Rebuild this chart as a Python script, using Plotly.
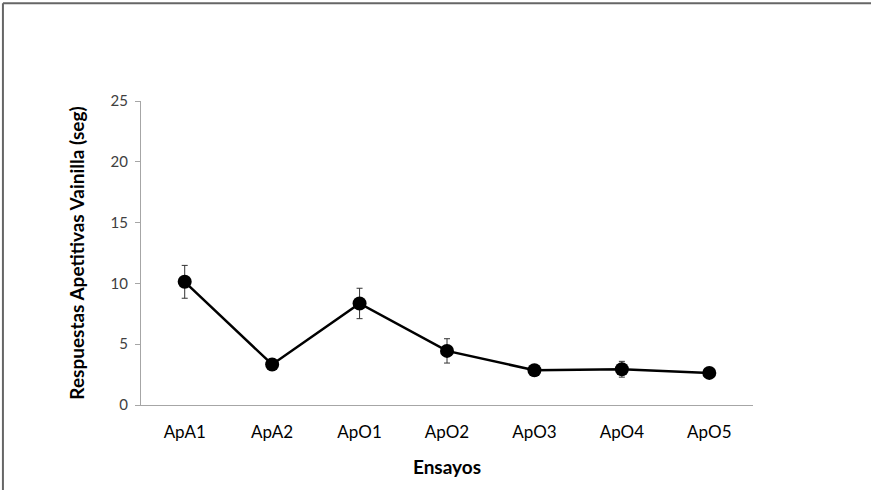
import plotly.graph_objects as go

categories = ["ApA1", "ApA2", "ApO1", "ApO2", "ApO3", "ApO4", "ApO5"]
values = [10.13, 3.33, 8.35, 4.45, 2.86, 2.94, 2.64]
errors = [1.35, 0.3, 1.25, 1.0, 0.25, 0.65, 0.2]
y_ticks = [0, 5, 10, 15, 20, 25]

FONT = "Lato"

fig = go.Figure()
fig.add_trace(go.Scatter(
    x=categories, y=values,
    mode="lines+markers",
    line=dict(color="black", width=2.5),
    marker=dict(color="black", size=14),
    error_y=dict(type="data", array=errors, visible=True,
                 color="#333333", thickness=1, width=3),
    showlegend=False,
))

fig.update_layout(
    width=871, height=490,
    margin=dict(l=141, r=118, t=101, b=85),
    paper_bgcolor="white", plot_bgcolor="white",
    font=dict(family=FONT, color="black"),
    xaxis=dict(
        type="category", range=[-0.5, 6.5],
        showline=True, linecolor="#a6a6a6", linewidth=1,
        showgrid=False, ticks="", zeroline=False,
        tickfont=dict(size=17, color="black", family=FONT),
        ticklabelstandoff=12,
        title=dict(text="<b>Ensayos</b>", font=dict(size=19, family=FONT), standoff=19),
    ),
    yaxis=dict(
        range=[0, 25], tickvals=y_ticks,
        showline=True, linecolor="#a6a6a6", linewidth=1,
        showgrid=False, zeroline=False,
        ticks="outside", ticklen=5, tickcolor="#a6a6a6",
        tickfont=dict(size=15, color="#404040", family=FONT),
        ticklabelstandoff=4,
        title=dict(text="<b>Respuestas Apetitivas Vainilla (seg)</b>",
                   font=dict(size=19, family=FONT), standoff=20),
    ),
    shapes=[
        dict(type="line", xref="paper", yref="paper",
             x0=-0.2256, x1=1.2, y0=1.3216, y1=1.3216,
             line=dict(color="#666666", width=2)),
        dict(type="line", xref="paper", yref="paper",
             x0=-0.2256, x1=-0.2256, y0=-0.3, y1=1.3216,
             line=dict(color="#666666", width=2)),
    ],
)

fig.write_html("out.html")
